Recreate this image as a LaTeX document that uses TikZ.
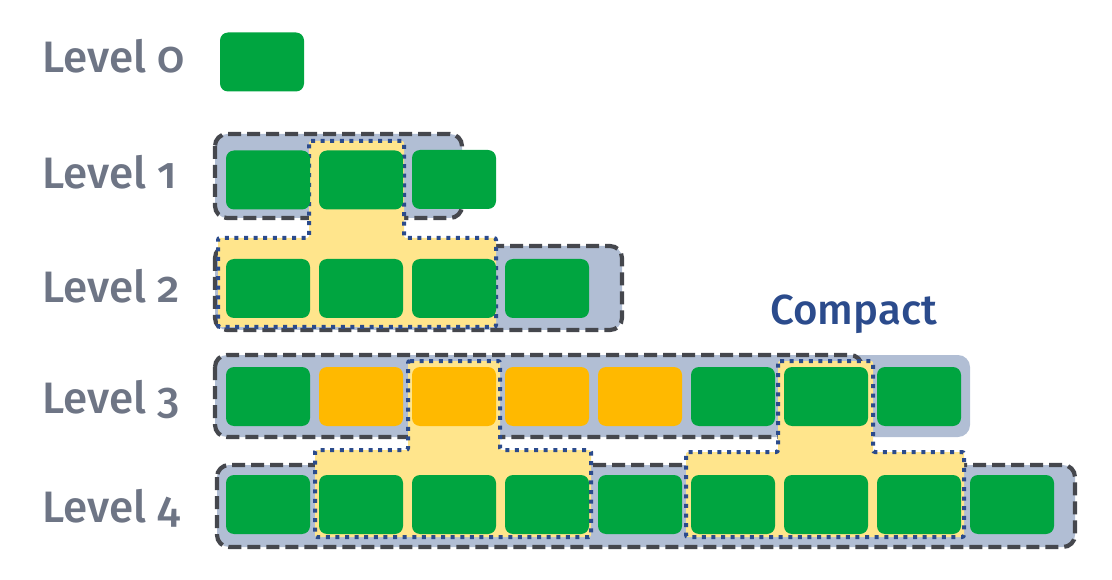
\documentclass[tikz,border=0pt]{standalone}
\usepackage{fontspec}
\setmainfont{Fira Sans}[Numbers=OldStyle]
\newfontfamily\labfont{Fira Sans Medium}[Numbers=OldStyle]
\definecolor{cgreen}{HTML}{00A540}
\definecolor{corange}{HTML}{FFB900}
\definecolor{cgray}{HTML}{B1BED4}
\definecolor{cdash}{HTML}{45474D}
\definecolor{cyel}{HTML}{FFE58C}
\definecolor{cblue}{HTML}{2B4B8C}
\definecolor{ctext}{HTML}{6E7585}
\tikzset{
  cell/.style={rounded corners=8pt, minimum width=84pt, minimum height=59pt, inner sep=0pt, draw=none},
  gcell/.style={cell, fill=cgreen},
  ocell/.style={cell, fill=corange},
  contfill/.style={fill=cgray, draw=none, rounded corners=12pt},
  contdash/.style={draw=cdash, line width=4.2pt, dash pattern=on 13pt off 6pt, rounded corners=12pt},
  yel/.style={fill=cyel, draw=cblue, line width=4pt, dash pattern=on 4pt off 5.6pt, rounded corners=2pt},
  lab/.style={font=\labfont\fontsize{44}{50}\selectfont, text=ctext, anchor=base west, inner sep=0pt},
}
\begin{document}
\begin{tikzpicture}[x=1pt,y=-1pt]
\useasboundingbox (0,0) rectangle (1112,580);
% containers
\path[contfill] (215,134) rectangle (462,218);
\draw[contdash] (215,134) rectangle (462,218);
\path[contfill] (215,246) rectangle (622,330);
\draw[contdash] (215,246) rectangle (622,330);
\path[contfill] (215,355) rectangle (970,437);
\draw[contdash] (215,355) rectangle (862,437);
\path[contfill] (217,465) rectangle (1075,547);
\draw[contdash] (217,465) rectangle (1075,547);
% yellow compaction regions
\draw[yel] (309,141) -- (404,141) -- (404,238) -- (496,238) -- (496,327) -- (218,327) -- (218,238) -- (309,238) -- cycle;
\draw[yel] (408,361) -- (500,361) -- (500,450) -- (591,450) -- (591,537) -- (315,537) -- (315,450) -- (408,450) -- cycle;
\draw[yel] (778,361) -- (873,361) -- (873,452) -- (964,452) -- (964,537) -- (686,537) -- (686,452) -- (778,452) -- cycle;
% cells
\node[gcell] (c00) at (262,62) {};
\node[gcell] (c10) at (268,180) {};
\node[gcell] (c11) at (361,180) {};
\node[gcell] (c12) at (454,179.5) {};
\foreach \i in {0,...,3} {
  \node[gcell] (c2\i) at (268+93*\i,288.5) {};
}
\foreach \i/\s in {0/gcell,1/ocell,2/ocell,3/ocell,4/ocell,5/gcell,6/gcell,7/gcell} {
  \node[\s] (c3\i) at (268+93*\i,396.5) {};
}
\foreach \i in {0,...,8} {
  \node[gcell] (c4\i) at (268+93*\i,504.5) {};
}
% labels
\node[lab] (l0) at (42,73) {Level 0};
\node[lab] (l1) at (42,189) {Level 1};
\node[lab] (l2) at (42,303) {Level 2};
\node[lab] (l3) at (42,413) {Level 3};
\node[lab] (l4) at (42,522) {Level 4};
\node[lab, text=cblue, font=\labfont\fontsize{42}{48}\selectfont] (cp) at (770,325) {Compact};
\end{tikzpicture}
\end{document}
